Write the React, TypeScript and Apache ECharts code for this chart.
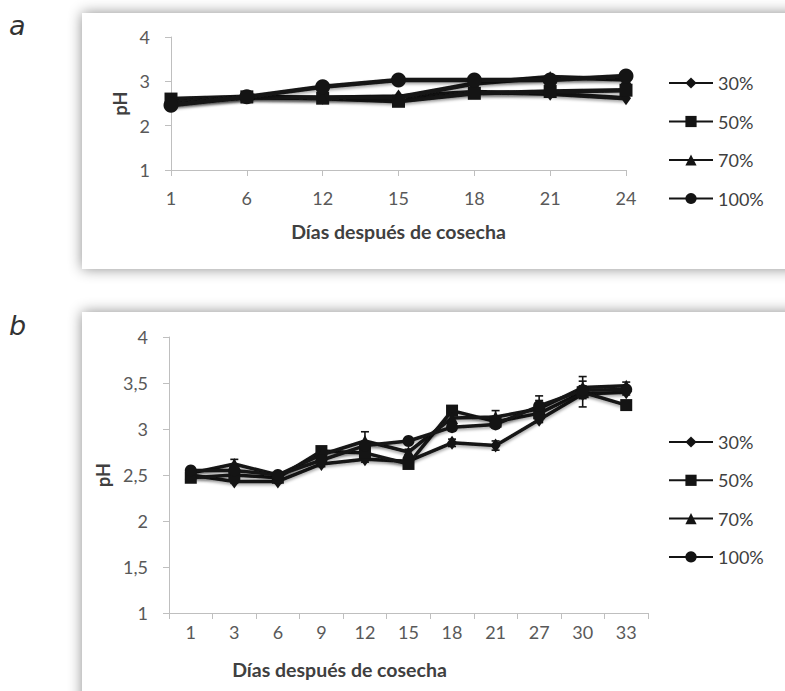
import React, { useEffect, useRef } from "react";
import * as echarts from "echarts";

// Días después de cosecha
const daysA = ["1", "6", "12", "15", "18", "21", "24"];
const daysB = ["1", "3", "6", "9", "12", "15", "18", "21", "27", "30", "33"];

// pH, panel a
const a30 = [2.5, 2.64, 2.63, 2.66, 2.76, 2.72, 2.62];
const a50 = [2.6, 2.65, 2.62, 2.55, 2.73, 2.77, 2.8];
const a70 = [2.52, 2.64, 2.63, 2.64, 2.95, 3.1, 3.04];
const a100 = [2.46, 2.65, 2.88, 3.03, 3.03, 3.03, 3.12];

// pH, panel b
const b30 = [2.5, 2.43, 2.43, 2.62, 2.67, 2.65, 2.85, 2.82, 3.1, 3.38, 3.4];
const b50 = [2.47, 2.5, 2.47, 2.76, 2.74, 2.62, 3.2, 3.08, 3.17, 3.4, 3.26];
const b70 = [2.52, 2.62, 2.5, 2.72, 2.87, 2.75, 3.12, 3.13, 3.22, 3.45, 3.47];
const b100 = [2.55, 2.55, 2.5, 2.66, 2.82, 2.87, 3.02, 3.05, 3.25, 3.42, 3.43];

// standard deviation, panel b
const e30 = [0.02, 0.02, 0.02, 0.03, 0.03, 0.02, 0.04, 0.05, 0.03, 0.14, 0.03];
const e50 = [0.02, 0.03, 0.02, 0.03, 0.04, 0.03, 0.05, 0.06, 0.04, 0.05, 0.04];
const e70 = [0.02, 0.05, 0.02, 0.03, 0.1, 0.03, 0.04, 0.07, 0.14, 0.12, 0.04];
const e100 = [0.02, 0.02, 0.02, 0.03, 0.03, 0.03, 0.04, 0.04, 0.06, 0.05, 0.03];

const treatments = ["30%", "50%", "70%", "100%"];
const yTicksA = [1, 2, 3, 4];
const yTicksB = [1, 1.5, 2, 2.5, 3, 3.5, 4];

const FONT = 'Lato, "Open Sans", sans-serif';
const INK = "#141414";
const LABEL = "#595959";
const TITLE = "#404040";
const AXIS = "#bfbfbf";

const symbolsA: [string, number | number[]][] = [
  ["diamond", [10, 14]],
  ["rect", 13],
  ["triangle", [12, 12]],
  ["circle", 15],
];
const symbolsB: [string, number | number[]][] = [
  ["diamond", [10, 14]],
  ["rect", 12],
  ["triangle", [12, 12]],
  ["circle", 12],
];

function lineSeries(
  name: string,
  data: number[],
  sym: [string, number | number[]],
  idx: number,
  width: number
) {
  return {
    type: "line",
    name,
    xAxisIndex: idx,
    yAxisIndex: idx,
    data,
    symbol: sym[0],
    symbolSize: sym[1],
    showAllSymbol: true,
    lineStyle: {
      color: INK,
      width,
      shadowColor: "rgba(0,0,0,0.35)",
      shadowBlur: 3,
      shadowOffsetY: 2,
    },
    itemStyle: { color: INK, borderWidth: 0 },
    emphasis: { disabled: true },
    z: 3,
  };
}

function errorSeries(name: string, values: number[], errs: number[], idx: number) {
  return {
    type: "custom",
    name: name + " de",
    xAxisIndex: idx,
    yAxisIndex: idx,
    data: values.map((v, i) => [i, v, errs[i]]),
    encode: { x: 0, y: 1 },
    renderItem: (_p: any, api: any) => {
      const x = api.value(0);
      const v = api.value(1);
      const e = api.value(2);
      const top = api.coord([x, v + e]);
      const bot = api.coord([x, v - e]);
      const hw = 4;
      const style = { stroke: INK, lineWidth: 1.6 };
      return {
        type: "group",
        children: [
          { type: "line", shape: { x1: top[0], y1: top[1], x2: bot[0], y2: bot[1] }, style },
          { type: "line", shape: { x1: top[0] - hw, y1: top[1], x2: top[0] + hw, y2: top[1] }, style },
          { type: "line", shape: { x1: bot[0] - hw, y1: bot[1], x2: bot[0] + hw, y2: bot[1] }, style },
        ],
      };
    },
    z: 2,
  };
}

function axisCommon() {
  return {
    axisLine: { show: true, lineStyle: { color: AXIS, width: 1 } },
    axisTick: { show: true, length: 6, lineStyle: { color: AXIS, width: 1 } },
    splitLine: { show: false },
  };
}

function legendAt(top: number, gap: number) {
  return {
    data: treatments,
    orient: "vertical",
    left: 668,
    top,
    padding: 0,
    itemWidth: 44,
    itemHeight: 14,
    itemGap: gap,
    selectedMode: false,
    textStyle: { color: TITLE, fontSize: 18, fontFamily: FONT },
  };
}

export default function App() {
  const ref = useRef<HTMLDivElement>(null);

  useEffect(() => {
    if (!ref.current) return;
    const chart = echarts.init(ref.current, null, { renderer: "svg" });

    const seriesA = [a30, a50, a70, a100];
    const seriesB = [b30, b50, b70, b100];
    const errB = [e30, e50, e70, e100];

    const titleStyle = { color: TITLE, fontSize: 19.5, fontWeight: "bold", fontFamily: FONT };
    const phStyle = { color: TITLE, fontSize: 18, fontWeight: "bold", fontFamily: FONT };

    const option: any = {
      animation: false,
      backgroundColor: "#ffffff",
      textStyle: { fontFamily: FONT },
      graphic: {
        elements: [
          {
            type: "rect",
            z: -100,
            shape: { x: 82, y: 13, width: 760, height: 256 },
            style: { fill: "#ffffff", shadowBlur: 14, shadowColor: "rgba(0,0,0,0.45)" },
            silent: true,
          },
          {
            type: "rect",
            z: -100,
            shape: { x: 82, y: 312, width: 760, height: 420 },
            style: { fill: "#ffffff", shadowBlur: 14, shadowColor: "rgba(0,0,0,0.45)" },
            silent: true,
          },
          {
            type: "text",
            left: 9,
            top: 12,
            style: {
              text: "a",
              font: 'italic 27px "DejaVu Sans", sans-serif',
              fill: "#333333",
            },
          },
          {
            type: "text",
            left: 9,
            top: 312,
            style: {
              text: "b",
              font: 'italic 27px "DejaVu Sans", sans-serif',
              fill: "#333333",
            },
          },
        ],
      },
      legend: [legendAt(74, 20.5), legendAt(433, 20.3)],
      grid: [
        { left: 171, top: 37, width: 455, height: 133 },
        { left: 169, top: 337, width: 479, height: 276 },
      ],
      xAxis: [
        {
          ...axisCommon(),
          type: "category",
          gridIndex: 0,
          data: daysA,
          boundaryGap: false,
          axisLabel: { color: LABEL, fontSize: 18, margin: 19, fontFamily: FONT },
          name: "Días después de cosecha",
          nameLocation: "middle",
          nameGap: 51,
          nameTextStyle: titleStyle,
        },
        {
          ...axisCommon(),
          type: "category",
          gridIndex: 1,
          data: daysB,
          boundaryGap: true,
          axisLabel: { color: LABEL, fontSize: 18, margin: 10, fontFamily: FONT },
          name: "Días después de cosecha",
          nameLocation: "middle",
          nameGap: 46,
          nameTextStyle: { ...titleStyle, padding: [0, 138, 0, 0] },
        },
      ],
      yAxis: [
        {
          ...axisCommon(),
          type: "value",
          gridIndex: 0,
          min: yTicksA[0],
          max: yTicksA[yTicksA.length - 1],
          interval: 1,
          axisLabel: { color: LABEL, fontSize: 18, margin: 21, fontFamily: FONT },
          name: "pH",
          nameLocation: "middle",
          nameGap: 34,
          nameTextStyle: phStyle,
        },
        {
          ...axisCommon(),
          type: "value",
          gridIndex: 1,
          min: yTicksB[0],
          max: yTicksB[yTicksB.length - 1],
          interval: 0.5,
          axisLabel: {
            color: LABEL,
            fontSize: 18,
            margin: 21,
            fontFamily: FONT,
            formatter: (v: number) => String(v).replace(".", ","),
          },
          name: "pH",
          nameLocation: "middle",
          nameGap: 54,
          nameTextStyle: phStyle,
        },
      ],
      series: [
        ...treatments.map((t, i) => lineSeries(t, seriesA[i], symbolsA[i], 0, 4.5)),
        ...treatments.map((t, i) => lineSeries(t, seriesB[i], symbolsB[i], 1, 3.5)),
        ...treatments.map((t, i) => errorSeries(t, seriesB[i], errB[i], 1)),
      ],
    };

    chart.setOption(option);
    return () => chart.dispose();
  }, []);

  return (
    <div
      ref={ref}
      style={{ position: "fixed", left: 0, top: 0, width: 785, height: 691, background: "#fff" }}
    />
  );
}
